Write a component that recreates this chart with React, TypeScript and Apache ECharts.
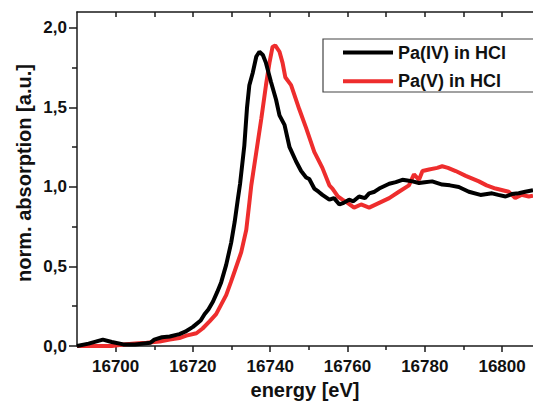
import React, { useEffect, useRef } from "react";
import * as echarts from "echarts";

const paIVEnergy = [
  16690, 16693, 16696.7, 16699, 16702, 16705, 16709, 16710, 16712, 16714, 16716.5, 16718, 16720, 16722, 16723, 16724,
  16725.2, 16726.3, 16727.3, 16728.6, 16729.9, 16730.8, 16731.6, 16732.2, 16733.3, 16734, 16734.6, 16735.5, 16736.4,
  16737.2, 16738.1, 16738.9, 16740.2, 16741.5, 16742.4, 16743.7, 16745, 16746.7, 16748, 16749.3, 16750.1, 16751.4,
  16752.5, 16753.5, 16755.3, 16756.5, 16757.9, 16759, 16760.4, 16761.5, 16763, 16764.5, 16765.6, 16767, 16768.2,
  16770.8, 16772.5, 16774.2, 16775.5, 16776.8, 16778.5, 16780, 16781.9, 16784.5, 16786.5, 16788.8, 16791.4, 16794.4,
  16797.4, 16799, 16800.9, 16802.5, 16804.3, 16806, 16808,
];
const paIVValue = [
  0.0, 0.015, 0.04, 0.025, 0.01, 0.01, 0.02, 0.04, 0.055, 0.06, 0.075, 0.09, 0.12, 0.16, 0.2, 0.23,
  0.28, 0.34, 0.4, 0.51, 0.65, 0.78, 0.92, 1.02, 1.26, 1.5, 1.64, 1.72, 1.82,
  1.85, 1.83, 1.78, 1.66, 1.55, 1.45, 1.39, 1.25, 1.16, 1.1, 1.06, 1.05, 0.99,
  0.97, 0.95, 0.92, 0.93, 0.89, 0.9, 0.92, 0.91, 0.94, 0.93, 0.96, 0.97, 0.99,
  1.02, 1.03, 1.045, 1.04, 1.035, 1.025, 1.03, 1.035, 1.015, 1.01, 1.0, 0.97, 0.95,
  0.96, 0.95, 0.94, 0.955, 0.96, 0.97, 0.98,
];

const paVEnergy = [
  16690, 16695, 16699, 16702, 16705, 16708, 16711.4, 16714, 16716.5, 16718.3, 16720.9, 16722.5, 16724.3, 16726,
  16727.3, 16728.6, 16729.8, 16730.8, 16732.5, 16733.8, 16734.6, 16735.1, 16736.4, 16737.7, 16738.9, 16739.8,
  16740.6, 16741.3, 16742.4, 16743.2, 16743.9, 16745.4, 16747.5, 16749.3, 16751.4, 16753.5, 16755.3, 16756.1,
  16757.5, 16758.7, 16760, 16761.7, 16763.5, 16765.6, 16768.2, 16770.8, 16773.3, 16775.9, 16777.2, 16778.5,
  16779.4, 16781.1, 16783.2, 16784.5, 16786, 16788, 16790.6, 16794, 16796, 16798.3, 16801.7, 16803.4, 16805,
  16806.9, 16808,
];
const paVValue = [
  0.0, 0.0, 0.0, 0.01, 0.015, 0.02, 0.028, 0.04, 0.05, 0.065, 0.08, 0.11, 0.155, 0.2,
  0.26, 0.32, 0.4, 0.47, 0.59, 0.73, 0.9, 1.01, 1.22, 1.43, 1.64, 1.78,
  1.88, 1.89, 1.85, 1.78, 1.69, 1.64, 1.49, 1.37, 1.22, 1.12, 1.01, 0.99,
  0.94, 0.92, 0.9, 0.87, 0.89, 0.87, 0.9, 0.93, 0.97, 1.01, 1.08, 1.045,
  1.1, 1.11, 1.12, 1.13, 1.12, 1.1, 1.07, 1.035, 1.01, 0.99, 0.97, 0.93, 0.95,
  0.94, 0.945,
];

const seriesNames = ["Pa(IV) in HCl", "Pa(V) in HCl"];
const xMajorTicks = [16700, 16720, 16740, 16760, 16780, 16800];
const xMinorTicks = [16710, 16730, 16750, 16770, 16790];
const xTopTicks = [16700, 16710, 16720, 16730, 16740, 16750, 16760, 16770, 16780, 16790, 16800];
const yMajorTicks = [0, 0.5, 1.0, 1.5, 2.0];
const yMinorTicks = [0.25, 0.75, 1.25, 1.75];

const X_MIN = 16690;
const X_MAX = 16808;
const Y_MIN = 0;
const Y_MAX = 2.1;

const FONT = "'Liberation Sans', Arial, sans-serif";

export default function App() {
  const ref = useRef<HTMLDivElement>(null);
  useEffect(() => {
    if (!ref.current) return;
    const chart = echarts.init(ref.current, null, { renderer: "svg" });
    const pairs = (xs: number[], ys: number[]) => xs.map((x, i) => [x, ys[i]]);
    const axisLine = { show: true, lineStyle: { color: "#1a1a1a", width: 1.5 } };
    const labelStyle = { color: "#111", fontFamily: FONT, fontWeight: "bold" as const, fontSize: 17 };
    chart.setOption({
      animation: false,
      backgroundColor: "#ffffff",
      grid: { left: 77, top: 12, width: 457.6, height: 338, containLabel: false },
      legend: {
        orient: "vertical",
        left: 343,
        top: 43.5,
        padding: 0,
        icon: "rect",
        itemWidth: 50,
        itemHeight: 4,
        itemGap: 10.7,
        data: seriesNames,
        textStyle: { color: "#111", fontFamily: FONT, fontWeight: "bold", fontSize: 18, lineHeight: 17 },
      },
      xAxis: [
        {
          type: "value",
          position: "bottom",
          min: X_MIN,
          max: X_MAX,
          axisLine,
          splitLine: { show: false },
          axisTick: { show: true, inside: false, length: 6, customValues: xMajorTicks, lineStyle: { color: "#1a1a1a", width: 1.5 } },
          axisLabel: { ...labelStyle, margin: 12, customValues: xMajorTicks, formatter: (v: number) => String(v) },
          name: "energy [eV]",
          nameLocation: "middle",
          nameGap: 34,
          nameTextStyle: { color: "#111", fontFamily: FONT, fontWeight: "bold", fontSize: 20 },
        },
        {
          type: "value",
          position: "bottom",
          min: X_MIN,
          max: X_MAX,
          axisLine: { show: false },
          splitLine: { show: false },
          axisTick: { show: true, inside: false, length: 4, customValues: xMinorTicks, lineStyle: { color: "#1a1a1a", width: 1.5 } },
          axisLabel: { show: false },
        },
        {
          type: "value",
          position: "top",
          min: X_MIN,
          max: X_MAX,
          axisLine,
          splitLine: { show: false },
          axisTick: { show: true, inside: true, length: 5, customValues: xTopTicks, lineStyle: { color: "#1a1a1a", width: 1.5 } },
          axisLabel: { show: false },
        },
      ],
      yAxis: [
        {
          type: "value",
          position: "left",
          min: Y_MIN,
          max: Y_MAX,
          axisLine,
          splitLine: { show: false },
          axisTick: { show: true, inside: false, length: 8, customValues: yMajorTicks, lineStyle: { color: "#1a1a1a", width: 1.5 } },
          axisLabel: {
            ...labelStyle,
            margin: 10,
            customValues: yMajorTicks,
            formatter: (v: number) => v.toFixed(1).replace(".", ","),
          },
        },
        {
          type: "value",
          position: "left",
          min: Y_MIN,
          max: Y_MAX,
          axisLine: { show: false },
          splitLine: { show: false },
          axisTick: { show: true, inside: false, length: 5, customValues: yMinorTicks, lineStyle: { color: "#1a1a1a", width: 1.5 } },
          axisLabel: { show: false },
        },
      ],
      graphic: [
        {
          type: "rect",
          shape: { x: 323, y: 39, width: 230, height: 53 },
          style: { fill: "none", stroke: "#444", lineWidth: 1.2 },
          z: 10,
        },
        {
          type: "text",
          x: 24,
          y: 173,
          rotation: Math.PI / 2,
          style: {
            text: "norm. absorption [a.u.]",
            fill: "#111",
            font: `bold 20px ${FONT}`,
            textAlign: "center",
            textVerticalAlign: "middle",
          },
        },
      ],
      series: [
        {
          name: seriesNames[0],
          type: "line",
          xAxisIndex: 0,
          yAxisIndex: 0,
          data: pairs(paIVEnergy, paIVValue),
          showSymbol: false,
          symbol: "none",
          lineStyle: { color: "#000000", width: 4 },
          itemStyle: { color: "#000000" },
          z: 3,
        },
        {
          name: seriesNames[1],
          type: "line",
          xAxisIndex: 0,
          yAxisIndex: 0,
          data: pairs(paVEnergy, paVValue),
          showSymbol: false,
          symbol: "none",
          lineStyle: { color: "#ee2d2d", width: 4 },
          itemStyle: { color: "#ee2d2d" },
          z: 2,
        },
      ],
    });
    return () => chart.dispose();
  }, []);
  return (
    <div
      ref={ref}
      style={{ position: "fixed", left: 0, top: 0, width: 533, height: 405, background: "#fff" }}
    />
  );
}
